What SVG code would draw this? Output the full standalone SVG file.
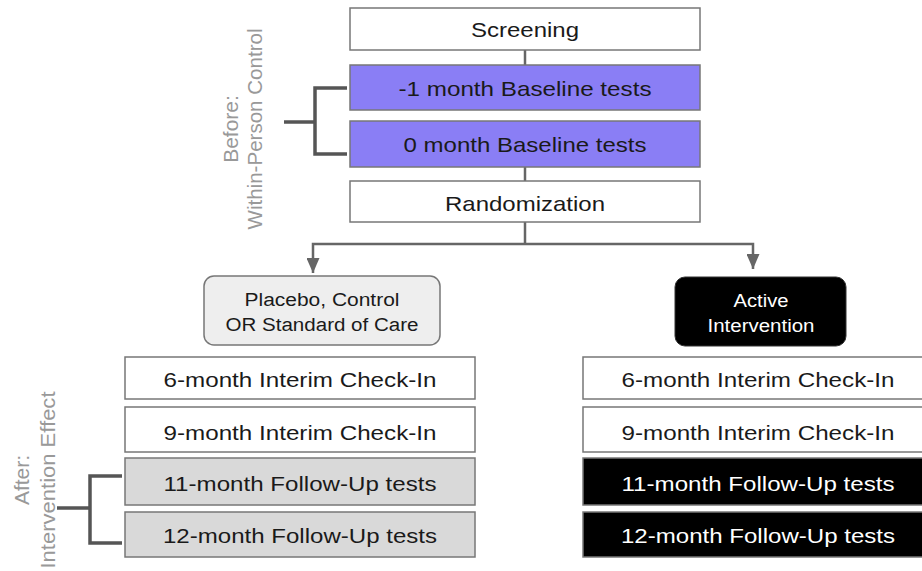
<svg xmlns="http://www.w3.org/2000/svg" width="922" height="571" viewBox="0 0 922 571">
<style>
  .box { stroke: #777; stroke-width: 1.5; }
  .w { fill: #ffffff; }
  .p { fill: #8a7ef5; }
  .g { fill: #d9d9d9; }
  .k { fill: #000000; }
  text { font-family: "Liberation Sans", Arial, sans-serif; text-anchor: middle; }
  .t { font-size: 21px; fill: #1a1a1a; }
  .tw { font-size: 21px; fill: #ffffff; }
  .s { font-size: 18px; fill: #1a1a1a; }
  .sw { font-size: 18px; fill: #ffffff; }
  .side { font-size: 21px; fill: #999999; }
  .conn { fill: none; stroke: #666; stroke-width: 2.5; }
  .br { fill: none; stroke: #555; stroke-width: 3.5; }
</style>
<defs>
  <marker id="arr" viewBox="0 0 10 10" refX="10" refY="5" markerWidth="15" markerHeight="13" markerUnits="userSpaceOnUse" orient="auto" preserveAspectRatio="none">
    <path d="M0,0 L10,5 L0,10 z" fill="#666"/>
  </marker>
</defs>
<rect width="922" height="571" fill="#ffffff"/>

<g id="connectors">
  <line class="conn" x1="525" y1="50" x2="525" y2="65"/>
  <line class="conn" x1="525" y1="167" x2="525" y2="181"/>
  <path class="conn" d="M525,222 V244"/>
  <path class="conn" d="M525,244 H313 V273" marker-end="url(#arr)"/>
  <path class="conn" d="M525,244 H753 V269" marker-end="url(#arr)"/>
  <path class="br" d="M347,88 H315 V154 H347 M315,122 H284"/>
  <path class="br" d="M122,476 H90 V543 H122 M90,508 H57"/>
</g>

<g id="label-before">
  <text class="side" transform="translate(238,129) rotate(-90)">Before:</text>
  <text class="side" transform="translate(262,129) rotate(-90)" textLength="201" lengthAdjust="spacingAndGlyphs">Within-Person Control</text>
</g>
<g id="label-after">
  <text class="side" transform="translate(29,480) rotate(-90)">After:</text>
  <text class="side" transform="translate(55,480) rotate(-90)" textLength="177" lengthAdjust="spacingAndGlyphs">Intervention Effect</text>
</g>

<g id="screening">
  <rect class="box w" x="350" y="8" width="350" height="42"/>
  <text class="t" x="525" y="37" textLength="108" lengthAdjust="spacingAndGlyphs">Screening</text>
</g>
<g id="baseline-minus1">
  <rect class="box p" x="350" y="65" width="350" height="45"/>
  <text class="t" x="525" y="96" textLength="253" lengthAdjust="spacingAndGlyphs">-1 month Baseline tests</text>
</g>
<g id="baseline-0">
  <rect class="box p" x="350" y="121" width="350" height="46"/>
  <text class="t" x="525" y="152" textLength="243" lengthAdjust="spacingAndGlyphs">0 month Baseline tests</text>
</g>
<g id="randomization">
  <rect class="box w" x="350" y="181" width="350" height="41"/>
  <text class="t" x="525" y="211" textLength="160" lengthAdjust="spacingAndGlyphs">Randomization</text>
</g>

<g id="placebo">
  <rect x="204" y="276" width="236" height="69" rx="10" fill="#eeeeee" stroke="#777" stroke-width="1.5"/>
  <text class="s" x="322" y="306" textLength="155" lengthAdjust="spacingAndGlyphs">Placebo, Control</text>
  <text class="s" x="322" y="331" textLength="193" lengthAdjust="spacingAndGlyphs">OR Standard of Care</text>
</g>
<g id="active">
  <rect x="675" y="277" width="171" height="69" rx="10" fill="#000000" stroke="#333" stroke-width="1"/>
  <text class="sw" x="761" y="307" textLength="55" lengthAdjust="spacingAndGlyphs">Active</text>
  <text class="sw" x="761" y="332" textLength="107" lengthAdjust="spacingAndGlyphs">Intervention</text>
</g>

<g id="left-6m">
  <rect class="box w" x="125" y="357" width="350" height="42"/>
  <text class="t" x="300" y="387" textLength="273" lengthAdjust="spacingAndGlyphs">6-month Interim Check-In</text>
</g>
<g id="left-9m">
  <rect class="box w" x="125" y="407" width="350" height="45"/>
  <text class="t" x="300" y="440" textLength="273" lengthAdjust="spacingAndGlyphs">9-month Interim Check-In</text>
</g>
<g id="left-11m">
  <rect class="box g" x="125" y="458" width="350" height="47"/>
  <text class="t" x="300" y="491" textLength="273" lengthAdjust="spacingAndGlyphs">11-month Follow-Up tests</text>
</g>
<g id="left-12m">
  <rect class="box g" x="125" y="512" width="350" height="45"/>
  <text class="t" x="300" y="543" textLength="274" lengthAdjust="spacingAndGlyphs">12-month Follow-Up tests</text>
</g>

<g id="right-6m">
  <rect class="box w" x="583" y="357" width="350" height="42"/>
  <text class="t" x="758" y="387" textLength="273" lengthAdjust="spacingAndGlyphs">6-month Interim Check-In</text>
</g>
<g id="right-9m">
  <rect class="box w" x="583" y="407" width="350" height="45"/>
  <text class="t" x="758" y="440" textLength="273" lengthAdjust="spacingAndGlyphs">9-month Interim Check-In</text>
</g>
<g id="right-11m">
  <rect class="box k" x="583" y="458" width="350" height="47"/>
  <text class="tw" x="758" y="491" textLength="273" lengthAdjust="spacingAndGlyphs">11-month Follow-Up tests</text>
</g>
<g id="right-12m">
  <rect class="box k" x="583" y="512" width="350" height="45"/>
  <text class="tw" x="758" y="543" textLength="274" lengthAdjust="spacingAndGlyphs">12-month Follow-Up tests</text>
</g>
</svg>
